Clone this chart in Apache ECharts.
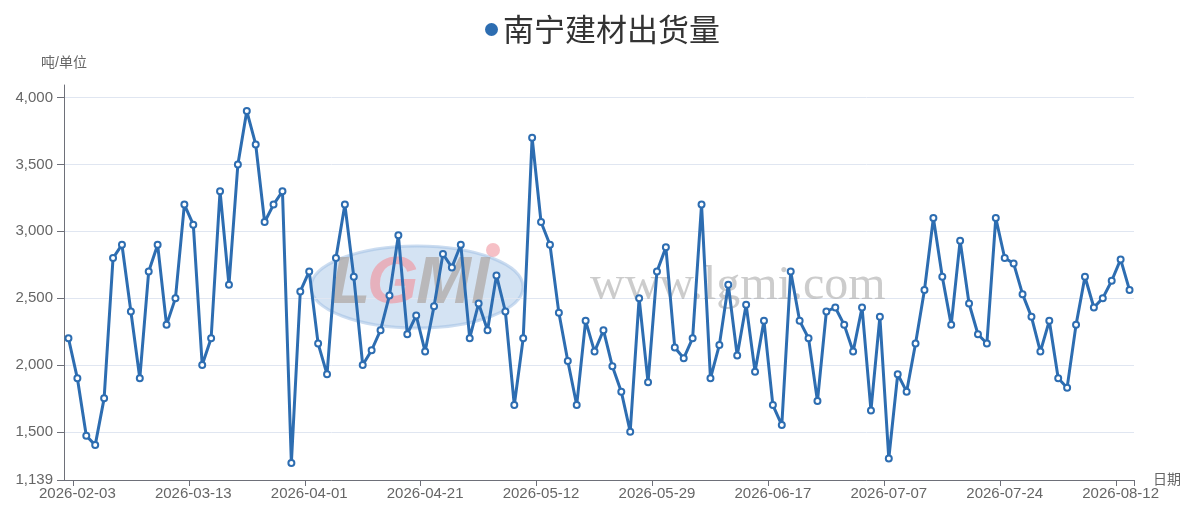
<!DOCTYPE html>
<html>
<head>
<meta charset="utf-8">
<script src="https://cdn.jsdelivr.net/npm/echarts@6/dist/echarts.min.js"></script>
<style>
html,body{margin:0;padding:0;background:#fff;}
#chart{width:1187px;height:510px;}
</style>
</head>
<body>
<div id="chart"></div>
<script>
const seriesName = '南宁建材出货量';
const yAxisName = '吨/单位';
const xAxisName = '日期';
const dates = [
'2026-02-01','2026-02-03','2026-02-05','2026-02-07','2026-02-10','2026-02-12','2026-02-14','2026-02-24','2026-02-26','2026-02-28',
'2026-03-03','2026-03-05','2026-03-08','2026-03-10','2026-03-13','2026-03-14','2026-03-16','2026-03-17','2026-03-18','2026-03-19',
'2026-03-20','2026-03-21','2026-03-23','2026-03-24','2026-03-26','2026-03-27','2026-03-30','2026-04-01','2026-04-02','2026-04-03',
'2026-04-04','2026-04-07','2026-04-08','2026-04-09','2026-04-10','2026-04-13','2026-04-14','2026-04-15','2026-04-16','2026-04-18',
'2026-04-21','2026-04-22','2026-04-23','2026-04-24','2026-04-26','2026-04-27','2026-04-28','2026-04-29','2026-04-30','2026-05-06',
'2026-05-07','2026-05-08','2026-05-09','2026-05-12','2026-05-13','2026-05-14','2026-05-15','2026-05-16','2026-05-18','2026-05-19',
'2026-05-20','2026-05-21','2026-05-22','2026-05-25','2026-05-26','2026-05-27','2026-05-29','2026-05-30','2026-06-01','2026-06-02',
'2026-06-03','2026-06-04','2026-06-05','2026-06-08','2026-06-09','2026-06-10','2026-06-11','2026-06-12','2026-06-15','2026-06-17',
'2026-06-18','2026-06-19','2026-06-22','2026-06-23','2026-06-24','2026-06-25','2026-06-26','2026-06-29','2026-06-30','2026-07-01',
'2026-07-02','2026-07-03','2026-07-07','2026-07-08','2026-07-09','2026-07-10','2026-07-11','2026-07-13','2026-07-14','2026-07-15',
'2026-07-16','2026-07-17','2026-07-20','2026-07-21','2026-07-22','2026-07-24','2026-07-25','2026-07-27','2026-07-28','2026-07-29',
'2026-07-30','2026-07-31','2026-08-03','2026-08-04','2026-08-05','2026-08-06','2026-08-07','2026-08-10','2026-08-12','2026-08-13'
];
const values = [
2200,1900,1470,1400,1750,2800,2900,2400,1900,2700,
2900,2300,2500,3200,3050,2000,2200,3300,2600,3500,
3900,3650,3070,3200,3300,1266,2550,2700,2160,1930,
2800,3200,2660,2000,2110,2260,2520,2970,2230,2370,
2100,2440,2830,2730,2900,2200,2460,2260,2670,2400,
1700,2200,3700,3070,2900,2390,2030,1700,2330,2100,
2260,1990,1800,1500,2500,1870,2700,2880,2130,2050,
2200,3200,1900,2150,2600,2070,2450,1950,2330,1700,
1550,2700,2330,2200,1730,2400,2430,2300,2100,2430,
1660,2360,1300,1930,1800,2160,2560,3100,2660,2300,
2930,2460,2230,2160,3100,2800,2760,2530,2360,2100,
2330,1900,1830,2300,2660,2430,2500,2630,2790,2560
];
const yMin = 1139;
const yMax = 4095;

const chart = echarts.init(document.getElementById('chart'));
const font = 'Liberation Sans, "Noto Sans CJK SC", sans-serif';
const lineColor = '#2d6db1';
const labelShown = (i) => i % 13 === 1;

chart.setOption({
  animation: false,
  textStyle: { fontFamily: font },
  legend: {
    top: 9,
    left: 480,
    icon: 'circle',
    itemWidth: 13,
    itemHeight: 13,
    itemGap: 6,
    textStyle: { fontSize: 31, color: '#333', fontFamily: '"Noto Sans CJK SC", sans-serif' },
    data: [seriesName]
  },
  graphic: [
    {
      type: 'ellipse', z: 0, silent: true,
      shape: { cx: 417, cy: 287, rx: 106, ry: 41 },
      style: { fill: 'rgba(160,192,228,0.45)', stroke: 'rgba(160,192,228,0.55)', lineWidth: 3 }
    },
    {
      type: 'text', z: 1, silent: true, left: 330, top: 252,
      style: { text: 'L', font: 'italic bold 66px "Liberation Sans", sans-serif', fill: 'rgba(170,162,155,0.65)' }
    },
    {
      type: 'text', z: 1, silent: true, left: 367, top: 252,
      style: { text: 'G', font: 'italic bold 66px "Liberation Sans", sans-serif', fill: 'rgba(240,150,160,0.65)' }
    },
    {
      type: 'text', z: 1, silent: true, left: 416, top: 252,
      style: { text: 'MI', font: 'italic bold 66px "Liberation Sans", sans-serif', fill: 'rgba(170,162,155,0.65)' }
    },
    {
      type: 'circle', z: 1, silent: true,
      shape: { cx: 493, cy: 250, r: 7 },
      style: { fill: 'rgba(240,150,160,0.6)' }
    },
    {
      type: 'text', z: 1, silent: true, left: 590, top: 262,
      style: { text: 'www.lgmi.com', font: '48px "Liberation Serif", serif', fill: 'rgba(170,170,170,0.6)' }
    }
  ],
  grid: { left: 64, right: 53, top: 85, bottom: 30, containLabel: false, outerBoundsMode: 'none' },
  xAxis: {
    type: 'category',
    data: dates,
    boundaryGap: true,
    name: xAxisName,
    nameGap: 19,
    nameMoveOverlap: false,
    nameTextStyle: { fontSize: 14, color: '#666' },
    axisLine: { lineStyle: { color: '#6E7079' } },
    axisTick: { show: true, interval: labelShown, length: 6 },
    axisLabel: { interval: labelShown, fontSize: 15, color: '#666', margin: 6 },
    splitLine: { show: false }
  },
  yAxis: {
    type: 'value',
    min: yMin,
    max: yMax,
    name: yAxisName,
    nameMoveOverlap: false,
    nameTextStyle: { fontSize: 14, color: '#666' },
    axisLine: { show: true, lineStyle: { color: '#6E7079' } },
    axisTick: { show: true, length: 7 },
    axisLabel: { fontSize: 15, color: '#666', margin: 11, showMaxLabel: false, showMinLabel: true },
    splitLine: { show: true, showMaxLine: false, showMinLine: false, lineStyle: { color: '#E0E6F1' } }
  },
  series: [{
    name: seriesName,
    type: 'line',
    z: 3,
    data: values,
    symbol: 'emptyCircle',
    symbolSize: 6,
    showAllSymbol: true,
    itemStyle: { color: lineColor, borderWidth: 2 },
    lineStyle: { width: 3, color: lineColor }
  }]
});
</script>
</body>
</html>
